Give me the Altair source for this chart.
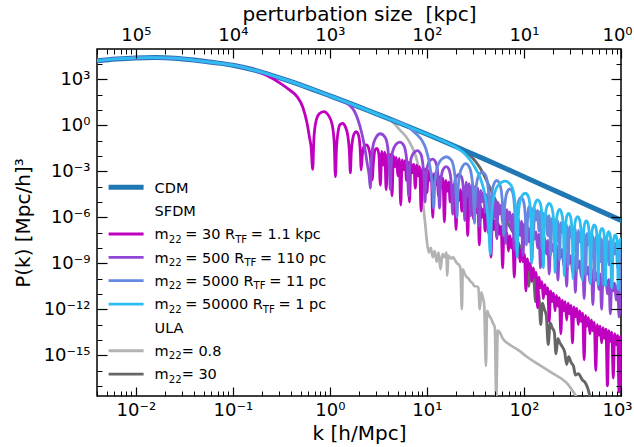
import altair as alt
import pandas as pd

FONT = "DejaVu Sans"

# ---------------- values: log10 k [h/Mpc], log10 P [(Mpc/h)^3] ----------------
cdm_logk = [-2.4, -2.2, -2.0, -1.8, -1.6, -1.4, -1.2, -1.0, -0.8, -0.6, -0.4, -0.2,
            0.0, 0.2, 0.4, 0.6, 0.8, 1.0, 1.2, 1.4, 1.6, 1.8, 2.0, 2.2, 2.4, 2.6, 2.8, 3.0]
cdm_logP = [4.21, 4.33, 4.40, 4.42, 4.38, 4.26, 4.10, 3.92, 3.64, 3.26, 2.85, 2.40,
            1.93, 1.45, 0.95, 0.45, -0.06, -0.58, -1.12, -1.67, -2.22, -2.78, -3.35, -3.92,
            -4.49, -5.06, -5.63, -6.2]

# SFDM m22 = 30 (after leaving the CDM curve)
sf30_tail = [
    (-0.66, 3.28), (-0.51, 2.74), (-0.42, 2.33), (-0.338, 1.87), (-0.28, 1.2), (-0.235, 0.13),
    (-0.21, -0.8), (-0.194, -1.4), (-0.177, -2.87),
    (-0.165, -0.9), (-0.145, 0.2), (-0.11, 0.75), (-0.064, 0.89), (-0.01, 0.6), (0.025, 0.0), (0.045, -1.2), (0.057, -3.35),
    (0.068, -1.5), (0.085, -0.4), (0.105, 0.05), (0.13, 0.13), (0.16, -0.1), (0.185, -0.7), (0.2, -1.6), (0.211, -3.09),
    (0.22, -1.8), (0.235, -0.9), (0.25, -0.55), (0.27, -0.42), (0.29, -0.55), (0.305, -1.0), (0.315, -1.9), (0.321, -2.92),
    (0.335, -1.9), (0.35, -1.4), (0.376, -1.28), (0.4, -1.5), (0.42, -2.2), (0.435, -3.57),
    (0.45, -2.3), (0.465, -1.6), (0.486, -1.5), (0.505, -1.9), (0.52, -3.9),
    (0.535, -1.7), (0.55, -2.6), (0.565, -1.75), (0.58, -4.2), (0.595, -1.85), (0.61, -2.5), (0.625, -1.9), (0.64, -4.6),
    (0.655, -2.0), (0.67, -2.7), (0.685, -2.1), (0.70, -3.3), (0.715, -2.15), (0.73, -5.2), (0.745, -2.25), (0.76, -2.9),
    (0.775, -2.3), (0.79, -3.6), (0.805, -2.4), (0.82, -5.0), (0.835, -2.45), (0.85, -3.1), (0.865, -2.55), (0.88, -4.1),
    (0.895, -2.6), (0.91, -3.3), (0.925, -2.7), (0.94, -5.6), (0.955, -2.8), (0.97, -3.5), (0.985, -2.85), (1.0, -4.4),
    (1.015, -2.95), (1.03, -3.6), (1.045, -3.05), (1.06, -6.0), (1.075, -3.15), (1.09, -3.9), (1.105, -3.25), (1.12, -4.6),
    (1.135, -3.35), (1.15, -4.1), (1.165, -3.45), (1.18, -6.3), (1.195, -3.6), (1.21, -4.3), (1.225, -3.7), (1.24, -5.0),
    (1.255, -3.85), (1.27, -4.6), (1.285, -3.95), (1.30, -6.8), (1.315, -4.1), (1.33, -4.9), (1.345, -4.2), (1.36, -5.6),
    (1.375, -4.35), (1.39, -5.1), (1.405, -4.5), (1.42, -7.2), (1.435, -4.65), (1.45, -5.4), (1.465, -4.8), (1.48, -6.1),
    (1.495, -4.95), (1.51, -5.7), (1.525, -5.1), (1.54, -7.8), (1.555, -5.3), (1.57, -6.0), (1.585, -5.45), (1.60, -6.9),
    (1.615, -5.6), (1.63, -6.4), (1.645, -5.8), (1.66, -8.6), (1.675, -6.0), (1.69, -6.8), (1.705, -6.2), (1.72, -7.4),
    (1.735, -6.4), (1.75, -7.1), (1.765, -6.6), (1.78, -9.3), (1.795, -6.8), (1.81, -7.5), (1.825, -7.0), (1.84, -8.2),
    (1.855, -7.2), (1.87, -8.0), (1.885, -7.4), (1.90, -9.9), (1.915, -7.7), (1.93, -8.4), (1.945, -7.9), (1.96, -8.9),
    (1.975, -8.1), (1.99, -8.9), (2.005, -8.4), (2.02, -10.8), (2.035, -8.7), (2.05, -9.4), (2.065, -9.0), (2.08, -10.2),
    (2.095, -9.3), (2.11, -9.9), (2.125, -9.6), (2.14, -11.9), (2.155, -9.9), (2.17, -10.6), (2.185, -10.2), (2.20, -11.3),
    (2.215, -10.4), (2.23, -11.0), (2.245, -10.6), (2.26, -12.8), (2.275, -10.8), (2.29, -11.5), (2.305, -10.95), (2.32, -12.1),
    (2.335, -11.1), (2.35, -11.8), (2.365, -11.25), (2.38, -13.6), (2.395, -11.4), (2.41, -12.1), (2.425, -11.5), (2.44, -12.7),
    (2.455, -11.6), (2.47, -12.3), (2.485, -11.75), (2.50, -14.2), (2.515, -11.85), (2.53, -12.5), (2.545, -11.95), (2.56, -13.0),
    (2.575, -12.1), (2.59, -12.8), (2.605, -12.25), (2.62, -15.3), (2.635, -12.4), (2.65, -13.1), (2.665, -12.55), (2.68, -13.6),
    (2.695, -12.7), (2.71, -13.4), (2.725, -12.85), (2.74, -16.0), (2.755, -13.0), (2.77, -13.7), (2.785, -13.1), (2.80, -14.2),
    (2.815, -13.2), (2.83, -13.9), (2.845, -13.3), (2.86, -17.0), (2.875, -13.4), (2.89, -14.1), (2.905, -13.5), (2.92, -16.5),
    (2.935, -13.6), (2.95, -14.3), (2.965, -13.7), (2.98, -17.4), (2.995, -13.8),
]

# SFDM m22 = 500
sf500_tail = [
    (0.1, 1.66), (0.2, 1.33), (0.25, 0.95), (0.29, 0.35), (0.33, -0.55), (0.36, -1.5), (0.385, -2.5), (0.405, -3.3), (0.417, -4.1),
    (0.425, -2.6), (0.44, -1.5), (0.47, -0.85), (0.52, -0.55), (0.57, -0.8), (0.595, -1.4), (0.61, -2.5), (0.623, -4.2),
    (0.63, -2.8), (0.645, -1.75), (0.68, -1.25), (0.72, -1.1), (0.76, -1.3), (0.785, -1.9), (0.80, -3.0), (0.812, -4.6),
    (0.82, -3.2), (0.835, -2.2), (0.865, -1.8), (0.90, -1.65), (0.935, -1.85), (0.955, -2.4), (0.97, -3.4), (0.98, -5.0),
    (0.99, -3.6), (1.005, -2.7), (1.03, -2.3), (1.06, -2.2), (1.09, -2.4), (1.11, -3.0), (1.12, -4.0), (1.13, -5.4),
    (1.14, -4.0), (1.155, -3.1), (1.175, -2.8), (1.2, -2.7), (1.225, -2.85), (1.245, -3.4), (1.255, -4.3), (1.265, -5.8),
    (1.275, -4.4), (1.29, -3.6), (1.31, -3.3), (1.33, -3.2), (1.355, -3.35), (1.372, -3.9), (1.382, -4.8), (1.39, -6.2),
    (1.405, -3.7), (1.42, -4.6), (1.435, -3.8), (1.45, -5.9), (1.465, -3.9), (1.48, -4.7), (1.495, -4.0), (1.51, -5.3),
    (1.525, -4.1), (1.54, -6.6), (1.555, -4.25), (1.57, -5.0), (1.585, -4.35), (1.60, -5.7), (1.615, -4.5), (1.63, -7.0),
    (1.645, -4.6), (1.66, -5.4), (1.675, -4.75), (1.69, -6.0), (1.705, -4.9), (1.72, -7.3), (1.735, -5.05), (1.75, -5.8),
    (1.765, -5.2), (1.78, -6.4), (1.795, -5.35), (1.81, -7.7), (1.825, -5.5), (1.84, -6.2), (1.855, -5.65), (1.87, -6.8),
    (1.885, -5.8), (1.90, -8.1), (1.915, -5.95), (1.93, -6.6), (1.945, -6.1), (1.96, -7.2), (1.975, -6.25), (1.99, -8.5),
    (2.005, -6.4), (2.02, -7.0), (2.035, -6.55), (2.05, -7.6), (2.065, -6.7), (2.08, -8.9), (2.095, -6.85), (2.11, -7.4),
    (2.125, -6.95), (2.14, -8.0), (2.155, -7.1), (2.17, -9.3), (2.185, -7.25), (2.20, -7.8), (2.215, -7.35), (2.23, -8.4),
    (2.245, -7.5), (2.26, -9.7), (2.275, -7.6), (2.29, -8.2), (2.305, -7.75), (2.32, -8.8), (2.335, -7.85), (2.35, -10.1),
    (2.365, -8.0), (2.38, -8.6), (2.395, -8.1), (2.41, -9.2), (2.425, -8.25), (2.44, -10.5), (2.455, -8.35), (2.47, -9.0),
    (2.485, -8.5), (2.50, -9.6), (2.515, -8.6), (2.53, -10.9), (2.545, -8.75), (2.56, -9.3), (2.575, -8.85), (2.59, -9.9),
    (2.605, -9.0), (2.62, -11.3), (2.635, -9.1), (2.65, -9.7), (2.665, -9.25), (2.68, -10.3), (2.695, -9.35), (2.71, -11.7),
    (2.725, -9.5), (2.74, -10.1), (2.755, -9.6), (2.77, -10.7), (2.785, -9.7), (2.80, -12.0), (2.815, -9.85), (2.83, -10.4),
    (2.845, -9.95), (2.86, -11.0), (2.875, -10.05), (2.89, -12.3), (2.905, -10.2), (2.92, -10.8), (2.935, -10.3), (2.95, -11.4),
    (2.965, -10.4), (2.98, -12.5), (2.995, -10.5),
]

# SFDM m22 = 5000
sf5000_tail = [
    (0.85, -0.33), (0.9, -0.62), (0.95, -1.0), (0.99, -1.55), (1.02, -2.3), (1.045, -3.3), (1.06, -4.3), (1.07, -5.4),
    (1.08, -4.0), (1.1, -2.9), (1.145, -2.25), (1.2, -2.05), (1.25, -2.25), (1.28, -2.9), (1.298, -4.0), (1.31, -6.0),
    (1.318, -4.5), (1.335, -3.3), (1.365, -2.7), (1.40, -2.5), (1.435, -2.7), (1.46, -3.3), (1.478, -4.4), (1.49, -6.4),
    (1.497, -5.0), (1.512, -3.8), (1.54, -3.2), (1.57, -3.05), (1.60, -3.2), (1.625, -3.8), (1.64, -4.9), (1.65, -6.9),
    (1.657, -5.4), (1.672, -4.3), (1.695, -3.75), (1.72, -3.6), (1.745, -3.75), (1.767, -4.3), (1.78, -5.3), (1.79, -7.2),
    (1.797, -5.8), (1.81, -4.8), (1.83, -4.3), (1.855, -4.15), (1.878, -4.3), (1.897, -4.9), (1.907, -5.8), (1.915, -7.5),
    (1.922, -6.2), (1.934, -5.3), (1.95, -4.85), (1.97, -4.7), (1.99, -4.85), (2.007, -5.4), (2.017, -6.3), (2.025, -7.8),
    (2.035, -6.4), (2.05, -5.3), (2.065, -6.0), (2.08, -5.4), (2.095, -7.6), (2.11, -5.45), (2.125, -6.2), (2.14, -5.55),
    (2.155, -6.9), (2.17, -5.6), (2.185, -8.1), (2.20, -5.75), (2.215, -6.4), (2.23, -5.85), (2.245, -7.2), (2.26, -5.9),
    (2.275, -8.5), (2.29, -6.05), (2.305, -6.7), (2.32, -6.15), (2.335, -7.5), (2.35, -6.25), (2.365, -8.8), (2.38, -6.35),
    (2.395, -7.0), (2.41, -6.45), (2.425, -7.8), (2.44, -6.5), (2.455, -9.2), (2.47, -6.6), (2.485, -7.3), (2.50, -6.7),
    (2.515, -8.1), (2.53, -6.75), (2.545, -9.5), (2.56, -6.85), (2.575, -7.6), (2.59, -6.9), (2.605, -8.4), (2.62, -7.0),
    (2.635, -9.8), (2.65, -7.05), (2.665, -7.8), (2.68, -7.15), (2.695, -8.7), (2.71, -7.2), (2.725, -10.1), (2.74, -7.3),
    (2.755, -8.0), (2.77, -7.35), (2.785, -8.9), (2.80, -7.4), (2.815, -10.4), (2.83, -7.45), (2.845, -8.2), (2.86, -7.5),
    (2.875, -9.1), (2.89, -7.55), (2.905, -10.6), (2.92, -7.6), (2.935, -8.4), (2.95, -7.65), (2.965, -9.3), (2.98, -7.7),
    (2.995, -10.8),
]

# SFDM m22 = 50000
sf50000_tail = [
    (1.3, -1.43), (1.35, -1.65), (1.4, -1.92), (1.447, -2.28), (1.5, -2.8), (1.55, -3.44), (1.59, -4.3), (1.615, -5.2),
    (1.635, -6.5), (1.654, -8.4),
    (1.665, -6.2), (1.685, -4.8), (1.73, -3.95), (1.808, -3.64), (1.87, -3.95), (1.905, -4.9), (1.92, -6.3), (1.93, -8.6),
    (1.938, -6.6), (1.952, -5.2), (1.98, -4.6), (2.014, -4.43), (2.045, -4.65), (2.065, -5.4), (2.074, -6.8), (2.08, -9.0),
    (2.087, -7.0), (2.098, -5.7), (2.118, -5.05), (2.14, -4.87), (2.165, -5.05), (2.184, -5.7), (2.193, -7.0), (2.2, -9.3),
    (2.207, -7.3), (2.218, -6.0), (2.238, -5.28), (2.26, -5.1), (2.283, -5.28), (2.303, -6.0), (2.313, -7.3), (2.32, -9.6),
    (2.326, -7.6), (2.334, -6.3), (2.35, -5.65), (2.367, -5.48), (2.385, -5.65), (2.402, -6.3), (2.41, -7.6), (2.415, -9.8),
    (2.421, -7.8), (2.429, -6.6), (2.443, -5.9), (2.46, -5.74), (2.477, -5.9), (2.492, -6.6), (2.5, -7.8), (2.505, -10.0),
    (2.511, -8.0), (2.519, -6.8), (2.535, -6.12), (2.553, -5.96), (2.571, -6.12), (2.587, -6.8), (2.595, -8.0), (2.6, -10.1),
    (2.606, -8.2), (2.613, -7.1), (2.627, -6.4), (2.643, -6.24), (2.659, -6.4), (2.673, -7.1), (2.68, -8.2), (2.685, -10.3),
    (2.69, -8.4), (2.697, -7.3), (2.71, -6.65), (2.725, -6.5), (2.74, -6.65), (2.753, -7.3), (2.76, -8.4), (2.765, -10.4),
    (2.77, -8.6), (2.776, -7.5), (2.79, -6.87), (2.805, -6.72), (2.82, -6.87), (2.83, -7.5), (2.836, -8.6), (2.84, -10.5),
    (2.845, -8.8), (2.85, -7.7), (2.861, -7.1), (2.873, -6.94), (2.886, -7.1), (2.896, -7.7), (2.901, -8.8), (2.905, -10.6),
    (2.91, -9.0), (2.915, -7.9), (2.929, -7.3), (2.942, -7.15), (2.954, -7.3), (2.963, -7.9), (2.967, -9.0), (2.97, -10.7),
    (2.975, -8.8), (2.982, -7.8), (2.992, -7.45), (3.0, -7.4),
]

# ULA m22 = 0.8
ula08_tail = [
    (0.66, 0.13), (0.72, -0.3), (0.78, -0.7), (0.83, -1.2), (0.87, -1.75), (0.9, -2.35), (0.93, -3.3), (0.95, -4.4),
    (0.967, -5.5), (0.985, -6.6), (1.0, -7.6), (1.02, -8.3), (1.04, -8.0), (1.06, -8.6), (1.08, -8.2), (1.1, -8.9),
    (1.12, -8.3), (1.14, -9.4), (1.16, -8.4), (1.18, -8.6), (1.2, -8.3), (1.21, -9.8), (1.22, -8.5), (1.25, -8.7),
    (1.27, -8.6), (1.29, -8.8), (1.31, -9.0), (1.33, -9.1), (1.345, -9.3), (1.36, -12.0), (1.37, -9.4), (1.39, -9.7),
    (1.41, -9.9), (1.43, -10.0), (1.45, -10.2), (1.47, -10.3), (1.49, -10.5), (1.51, -10.5), (1.53, -10.6), (1.545, -12.0),
    (1.56, -10.9), (1.575, -11.2), (1.59, -11.7), (1.608, -15.7), (1.62, -12.1), (1.64, -12.4), (1.66, -12.6), (1.68, -12.9),
    (1.70, -13.2), (1.714, -17.8), (1.73, -13.4), (1.75, -13.5), (1.78, -13.9), (1.85, -14.3), (1.95, -14.7), (2.03, -15.1),
    (2.15, -15.6), (2.3, -16.2), (2.44, -16.8), (2.56, -17.9),
]

# ULA m22 = 30
ula30_tail = [
    (1.3, -1.42), (1.38, -1.68), (1.45, -2.0), (1.5, -2.35), (1.55, -2.8), (1.6, -3.4), (1.65, -4.1), (1.7, -4.8),
    (1.76, -5.5), (1.82, -6.2), (1.88, -6.9), (1.93, -7.5), (1.97, -8.1), (2.0, -8.6), (2.032, -9.0), (2.05, -10.5),
    (2.066, -9.4), (2.1, -9.9), (2.12, -11.5), (2.138, -10.8), (2.155, -11.2), (2.173, -13.0), (2.19, -11.6), (2.21, -12.0),
    (2.23, -12.4), (2.25, -14.3), (2.27, -12.9), (2.29, -13.2), (2.313, -13.5), (2.33, -14.9), (2.35, -13.9), (2.37, -14.2),
    (2.39, -14.4), (2.42, -14.8), (2.44, -15.6), (2.46, -15.1), (2.488, -15.5), (2.51, -15.7), (2.53, -16.3), (2.56, -16.2),
    (2.6, -16.6), (2.632, -16.8), (2.66, -17.2), (2.684, -17.8),
]

# tick positions / labels
x_major = [1e-2, 1e-1, 1e0, 1e1, 1e2, 1e3]
x_minor = [m * 10.0 ** e for e in range(-3, 3) for m in range(2, 10) if 10 ** -2.4 <= m * 10.0 ** e <= 1e3]
y_major = [1e3, 1e0, 1e-3, 1e-6, 1e-9, 1e-12, 1e-15]
y_minor = [10.0 ** e for e in range(-17, 5) if e % 3 != 0]

# ---------------- build frames ----------------
def cdm_head(n):
    return list(zip(cdm_logk[:n], cdm_logP[:n]))

def frame(pts):
    return pd.DataFrame({
        "k": [10 ** a for a, _ in pts],
        "P": [10 ** b for _, b in pts],
        "i": list(range(len(pts))),
    })

series = [
    # name, points, color, width
    ("ULA 0.8", cdm_head(16) + ula08_tail, "#b3b3b3", 2.7),
    ("ULA 30", cdm_head(19) + ula30_tail, "#666666", 2.9),
    ("CDM", list(zip(cdm_logk, cdm_logP)), "#1f77b4", 5.0),
    ("SFDM 30", cdm_head(9) + sf30_tail, "#bf00bf", 2.8),
    ("SFDM 500", cdm_head(13) + sf500_tail, "#9246d6", 2.8),
    ("SFDM 5000", cdm_head(17) + sf5000_tail, "#6688e0", 2.8),
    ("SFDM 50000", cdm_head(19) + sf50000_tail, "#2ebdf0", 2.8),
]

XDOM = [10 ** -2.4, 1e3]
YDOM = [10 ** -17.66, 10 ** 4.98]
xs = alt.Scale(type="log", domain=XDOM, nice=False)
ys = alt.Scale(type="log", domain=YDOM, nice=False)

SUP = {"0": "⁰", "1": "¹", "2": "²", "3": "³", "4": "⁴", "5": "⁵",
       "6": "⁶", "7": "⁷", "8": "⁸", "9": "⁹", "-": "⁻"}

def sup(n):
    return "".join(SUP[c] for c in str(n))

def label_expr(pairs):
    expr = "''"
    for e, shown in pairs:
        expr = f"round(log(datum.value)/LN10)=={e} ? '10{sup(shown)}' : ({expr})"
    return expr

bottom_expr = label_expr([(e, e) for e in range(-2, 4)])
top_expr = label_expr([(e, 3 - e) for e in range(-2, 4)])
left_expr = label_expr([(e, e) for e in [3, 0, -3, -6, -9, -12, -15]])

common = dict(domain=False, grid=False, tickColor="black", labelColor="black",
              labelFont=FONT, titleFont=FONT, titleFontWeight="normal", titleColor="black",
              labelFlush=False, labelOverlap=False, zindex=2)

# keep the label at the right edge inside the picture
edge_shift = {"condition": {"test": "datum.value > 500", "value": -4}, "value": 0}

XMAJ, XMIN, YMAJ, YMIN = 9, 5, 10, 5

ax_bottom = alt.Axis(orient="bottom", values=x_major, tickSize=XMAJ, offset=-XMAJ, tickWidth=1.2,
                     labelExpr=bottom_expr, labelFontSize=18, labelPadding=5, labelOffset=edge_shift,
                     title="k [h/Mpc]", titleFontSize=20, titlePadding=4, **common)
ax_bottom_m = alt.Axis(orient="bottom", values=x_minor, tickSize=XMIN, offset=-XMIN, tickWidth=1,
                       labels=False, title=None, **common)
ax_top = alt.Axis(orient="top", values=x_major, tickSize=XMAJ, offset=-XMAJ, tickWidth=1.2,
                  labelExpr=top_expr, labelFontSize=18, labelPadding=5, labelOffset=edge_shift,
                  title="perturbation size \u00a0[kpc]", titleFontSize=20, titlePadding=2, **common)
ax_top_m = alt.Axis(orient="top", values=x_minor, tickSize=XMIN, offset=-XMIN, tickWidth=1,
                    labels=False, title=None, **common)
ax_left = alt.Axis(orient="left", values=y_major, tickSize=YMAJ, offset=-YMAJ, tickWidth=1.2,
                   labelExpr=left_expr, labelFontSize=18, labelPadding=7,
                   title="P(k) [Mpc/h]³", titleFontSize=20, titlePadding=10, **common)
ax_left_m = alt.Axis(orient="left", values=y_minor, tickSize=YMIN, offset=-YMIN, tickWidth=1,
                     labels=False, title=None, **common)
ax_right = alt.Axis(orient="right", values=y_major, tickSize=YMAJ, offset=-YMAJ, tickWidth=1.2,
                    labels=False, title=None, **common)
ax_right_m = alt.Axis(orient="right", values=y_minor, tickSize=YMIN, offset=-YMIN, tickWidth=1,
                      labels=False, title=None, **common)

carrier_df = pd.DataFrame({"k": [1.0], "P": [1.0]})

def carrier(xax, yax):
    return alt.Chart(carrier_df).mark_point(opacity=0).encode(
        x=alt.X("k:Q", scale=xs, axis=xax),
        y=alt.Y("P:Q", scale=ys, axis=yax),
    )

layers = [
    carrier(ax_bottom, ax_left),
    carrier(ax_bottom_m, ax_left_m),
    carrier(ax_top, ax_right),
    carrier(ax_top_m, ax_right_m),
]

for name, pts, color, w in series:
    layers.append(
        alt.Chart(frame(pts)).mark_line(
            color=color, strokeWidth=w, clip=True, interpolate="monotone",
            strokeJoin="round", strokeCap="round"
        ).encode(
            x=alt.X("k:Q", scale=xs, axis=None),
            y=alt.Y("P:Q", scale=ys, axis=None),
            order="i:Q",
        )
    )

# ---------------- legend (built with text / rule marks) ----------------
legend_rows = [
    ("CDM", "#1f77b4", 5.0, [("CDM", False, 0.0)]),
    ("SFDM", None, 0, [("SFDM", False, 0.0)]),
    ("s30", "#bf00bf", 2.8, [("m", False, 0.0), ("22", True, 0.0), ("= 30", False, 0.25), ("R", False, 0.318),
                             ("TF", True, 0.0), ("= 1.1 kpc", False, 0.25)]),
    ("s500", "#9246d6", 2.8, [("m", False, 0.0), ("22", True, 0.0), ("= 500", False, 0.25), ("R", False, 0.318),
                              ("TF", True, 0.0), ("= 110 pc", False, 0.25)]),
    ("s5000", "#6688e0", 2.8, [("m", False, 0.0), ("22", True, 0.0), ("= 5000", False, 0.25), ("R", False, 0.318),
                               ("TF", True, 0.0), ("= 11 pc", False, 0.25)]),
    ("s50000", "#2ebdf0", 2.8, [("m", False, 0.0), ("22", True, 0.0), ("= 50000", False, 0.25), ("R", False, 0.318),
                                ("TF", True, 0.0), ("= 1 pc", False, 0.25)]),
    ("ULA", None, 0, [("ULA", False, 0.0)]),
    ("u08", "#b3b3b3", 2.8, [("m", False, 0.0), ("22", True, 0.0), ("= 0.8", False, 0.0)]),
    ("u30", "#666666", 2.8, [("m", False, 0.0), ("22", True, 0.0), ("= 30", False, 0.0)]),
]

CW = {" ": 0.318, "=": 0.838, ".": 0.318, "m": 0.974, "R": 0.695, "T": 0.611, "F": 0.575,
      "k": 0.579, "p": 0.635, "c": 0.550}
for d in "0123456789":
    CW[d] = 0.636

FS = 14.5
SUBF = FS * 0.7
ROW0, DROW = 138.3, 23.35
TX0, SW1, SW2 = 57.6, 11.6, 46.6

line_rows, text_rows = [], []
for r, (_, col, w, parts) in enumerate(legend_rows):
    yc = ROW0 + r * DROW
    if col:
        line_rows.append({"x1": SW1, "x2": SW2, "y": yc, "col": col, "sw": w})
    xpos = TX0
    for txt, is_sub, gap in parts:
        xpos += gap * FS
        size = SUBF if is_sub else FS
        text_rows.append({"x": xpos, "y": yc + (8.5 if is_sub else 5.2), "t": txt, "fs": size})
        xpos += sum(CW.get(c, 0.6) for c in txt) * size

leg_lines = alt.Chart(pd.DataFrame(line_rows)).mark_rule(strokeCap="butt").encode(
    x=alt.X("x1:Q", scale=None, axis=None),
    x2="x2:Q",
    y=alt.Y("y:Q", scale=None, axis=None),
    color=alt.Color("col:N", scale=None),
    strokeWidth=alt.StrokeWidth("sw:Q", scale=None),
)
leg_text = alt.Chart(pd.DataFrame(text_rows)).mark_text(
    align="left", baseline="alphabetic", font=FONT, color="black"
).encode(
    x=alt.X("x:Q", scale=None, axis=None),
    y=alt.Y("y:Q", scale=None, axis=None),
    text="t:N",
    size=alt.Size("fs:Q", scale=None),
)
layers += [leg_lines, leg_text]

chart = alt.layer(*layers).resolve_axis(x="independent", y="independent").properties(
    width=524, height=347,
    padding={"left": 97, "top": 49, "right": 13, "bottom": 51},
    autosize=alt.AutoSizeParams(type="none"),
).configure_view(stroke="black", strokeWidth=1.5)

chart.save("out.html", embed_options={"renderer": "svg", "actions": False})
